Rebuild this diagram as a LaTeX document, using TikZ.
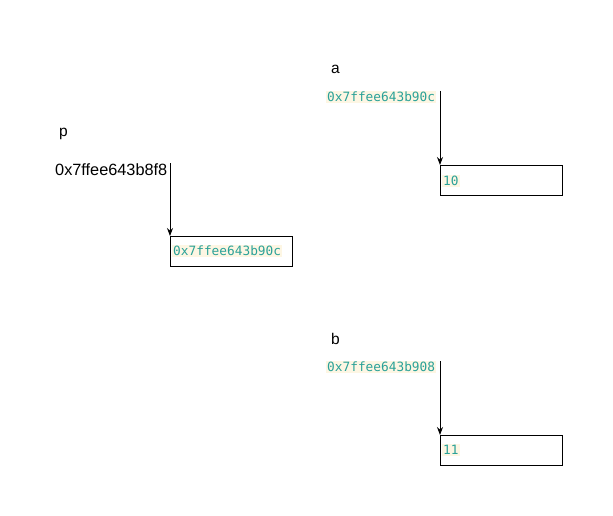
\documentclass[tikz,border=0pt]{standalone}
\usepackage{fontspec}
\setmainfont{Liberation Sans}
\setmonofont{DejaVu Sans Mono}
\usetikzlibrary{arrows.meta}
\definecolor{codefg}{HTML}{2AA198}
\definecolor{codebg}{HTML}{FDF6E3}
\begin{document}
\begin{tikzpicture}[x=1pt,y=-1pt,
  lbl/.style={font=\fontsize{15.5}{18}\selectfont, inner sep=0pt, anchor=west},
  code/.style={font=\ttfamily\fontsize{12.8}{14}\selectfont, text=codefg, fill=codebg, inner sep=1pt, anchor=west},
  cell/.style={draw=black, line width=0.8pt, minimum width=122pt, minimum height=30pt, inner sep=0pt, anchor=north west},
  arr/.style={draw=black, line width=0.8pt, -{Stealth[length=8pt,width=6pt]}}
]
\path[use as bounding box, fill=white] (0,0) rectangle (613,516);

% a
\node[lbl] (alab) at (331,69) {a};
\node[code] (aaddr) at (326,97) {0x7ffee643b90c};
\node[cell] (abox) at (440,165) {};
\node[code] (aval) at (442,181) {10};
\coordinate (as) at (440,91);
\draw[arr] (as) -- (abox.north west);

% p
\node[lbl] (plab) at (59,134) {p};
\node[lbl,font=\fontsize{16.3}{19}\selectfont] (paddr) at (55,170) {0x7ffee643b8f8};
\node[cell] (pbox) at (170,236) {};
\node[code] (pval) at (172,251) {0x7ffee643b90c};
\coordinate (ps) at (170,163);
\draw[arr] (ps) -- (pbox.north west);

% b
\node[lbl] (blab) at (331,339) {b};
\node[code] (baddr) at (326,367) {0x7ffee643b908};
\node[cell] (bbox) at (440,435) {};
\node[code] (bval) at (442,450) {11};
\coordinate (bs) at (440,361);
\draw[arr] (bs) -- (bbox.north west);
\end{tikzpicture}
\end{document}
